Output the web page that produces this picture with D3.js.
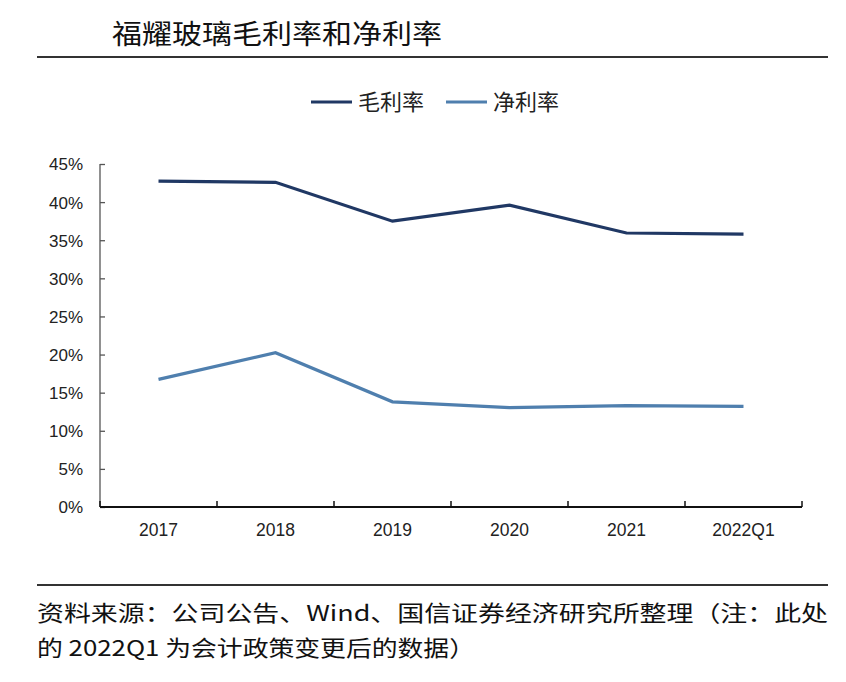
<!DOCTYPE html>
<html><head><meta charset="utf-8">
<script src="https://cdn.jsdelivr.net/npm/d3@7"></script>
<style>html,body{margin:0;padding:0;background:#fff;}</style>
</head><body>
<svg id="c" width="846" height="682"></svg>
<script>
const categories = ["2017","2018","2019","2020","2021","2022Q1"];
const grossMargin = [42.75, 42.6, 37.5, 39.6, 35.95, 35.8];
const netMargin = [16.75, 20.25, 13.8, 13.05, 13.3, 13.2];
const yTicks = [0,5,10,15,20,25,30,35,40,45];
const seriesNames = ["毛利率","净利率"];
const title = "福耀玻璃毛利率和净利率";
const note1 = "资料来源：公司公告、Wind、国信证券经济研究所整理（注：此处";
const note2 = "的 2022Q1 为会计政策变更后的数据）";

const colors = ["#203864", "#4f7fae"];
const svg = d3.select("#c");
const cjk = "'Noto Sans CJK SC', 'Noto Sans', sans-serif";
const lat = "'Liberation Sans', Arial, sans-serif";

// title
svg.append("text").attr("x",112).attr("y",44).attr("font-family",cjk)
  .attr("font-size",27).attr("fill","#111").attr("textLength",330).attr("lengthAdjust","spacingAndGlyphs").text(title);
svg.append("line").attr("x1",37).attr("x2",828).attr("y1",57).attr("y2",57).attr("stroke","#333").attr("stroke-width",2);

// legend
const leg = [{x:311,tx:358},{x:446,tx:493}];
leg.forEach((l,i)=>{
  svg.append("line").attr("x1",l.x).attr("x2",l.x+41).attr("y1",102).attr("y2",102).attr("stroke",colors[i]).attr("stroke-width",3);
  svg.append("text").attr("x",l.tx).attr("y",110).attr("font-family",cjk).attr("font-size",22).attr("fill","#222")
    .attr("textLength",66).attr("lengthAdjust","spacingAndGlyphs").text(seriesNames[i]);
});

// scales
const x = d3.scaleBand().domain(categories).range([100,802]);
const y = d3.scaleLinear().domain([0,45]).range([507,164]);

// y axis
const yAxis = d3.axisLeft(y).tickValues(yTicks).tickSize(-5).tickPadding(18).tickFormat(d=>d+"%");
const gy = svg.append("g").attr("transform","translate(100,0)").call(yAxis);
gy.select(".domain").remove();
gy.append("line").attr("x1",0).attr("x2",0).attr("y1",y(45)).attr("y2",y(0)).attr("stroke","#555").attr("stroke-width",1.3);
gy.selectAll(".tick line").attr("stroke","#555").attr("stroke-width",1.3);
gy.selectAll(".tick text").attr("font-family",lat).attr("font-size",17).attr("fill","#222").attr("dy","0.35em").attr("x",-17);

// x axis
const xAxis = d3.axisBottom(x).tickSize(0).tickPadding(17);
const gx = svg.append("g").attr("transform","translate(0,507)").call(xAxis);
gx.select(".domain").remove();
gx.append("line").attr("x1",100).attr("x2",802).attr("y1",0).attr("y2",0).attr("stroke","#111").attr("stroke-width",2);
const bounds = categories.map(c=>x(c)).concat([x.range()[1]]);
gx.selectAll(".bt").data(bounds).enter().append("line").attr("class","bt")
  .attr("x1",d=>d).attr("x2",d=>d).attr("y1",0).attr("y2",-6).attr("stroke","#111").attr("stroke-width",1.5);
gx.selectAll(".tick text").attr("font-family",lat).attr("font-size",17.5).attr("fill","#222");

// lines
const line = d3.line().x((d,i)=>x(categories[i])+x.bandwidth()/2).y(d=>y(d));
[grossMargin, netMargin].forEach((s,i)=>{
  svg.append("path").datum(s).attr("d",line).attr("fill","none").attr("stroke",colors[i]).attr("stroke-width",3.2).attr("stroke-linejoin","miter");
});

// footer
svg.append("line").attr("x1",37).attr("x2",828).attr("y1",585).attr("y2",585).attr("stroke","#333").attr("stroke-width",2);
svg.append("text").attr("x",37).attr("y",621).attr("font-family",cjk).attr("font-size",22).attr("fill","#111")
  .attr("textLength",791).attr("lengthAdjust","spacingAndGlyphs").text(note1);
svg.append("text").attr("x",37).attr("y",656).attr("font-family",cjk).attr("font-size",22).attr("fill","#111")
  .attr("textLength",438).attr("lengthAdjust","spacingAndGlyphs").text(note2);
</script>
</body></html>
